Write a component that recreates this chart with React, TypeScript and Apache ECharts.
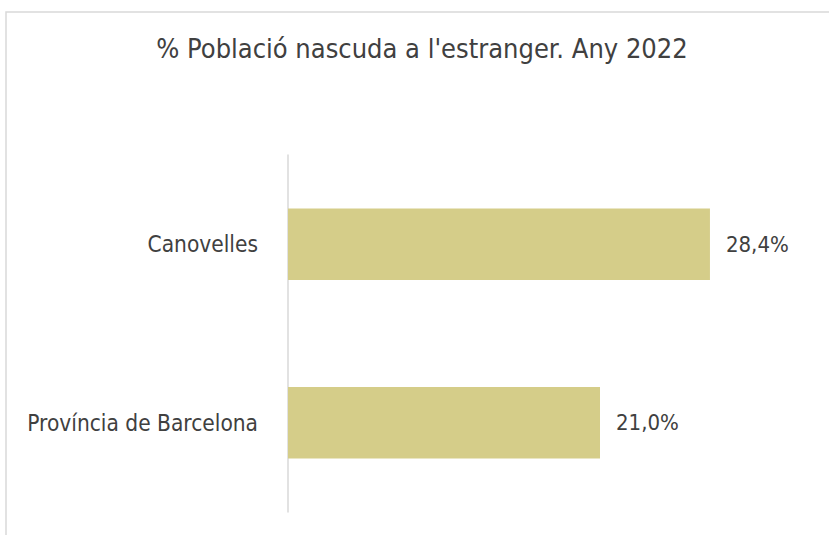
import React, { useEffect, useRef } from "react";
import * as echarts from "echarts";

const categories = ["Canovelles", "Província de Barcelona"];
const values = [28.4, 21.0];
const titleText = "% Població nascuda a l'estranger. Any 2022";

const FONT = "'DejaVu Sans Condensed', 'DejaVu Sans', sans-serif";
const TEXT = "#404040";

export default function App() {
  const ref = useRef<HTMLDivElement>(null);
  useEffect(() => {
    if (!ref.current) return;
    const chart = echarts.init(ref.current, undefined, { renderer: "svg" });
    chart.setOption({
      animation: false,
      backgroundColor: "#ffffff",
      graphic: [
        {
          type: "rect",
          shape: { x: 6, y: 12, width: 1000, height: 1000 },
          style: { fill: "none", stroke: "#d9d9d9", lineWidth: 1.5 },
          silent: true,
          z: -10,
        },
      ],
      title: {
        text: titleText,
        left: 417,
        textAlign: "center",
        top: 30,
        textStyle: { fontFamily: FONT, fontSize: 27, fontWeight: "normal", color: TEXT },
      },
      grid: { left: 288, right: 21, top: 155, bottom: 23, containLabel: false },
      xAxis: {
        type: "value",
        min: 0,
        max: 35,
        show: false,
        splitLine: { show: false },
      },
      yAxis: {
        type: "category",
        data: categories,
        inverse: true,
        axisTick: { show: false },
        axisLine: { show: true, lineStyle: { color: "#d9d9d9", width: 1.5 } },
        axisLabel: { margin: 30, fontFamily: FONT, fontSize: 22.5, color: TEXT },
      },
      series: [
        {
          type: "bar",
          data: values,
          barCategoryGap: "60%",
          itemStyle: { color: "#d5cd89" },
          label: {
            show: true,
            position: "right",
            distance: 16,
            fontFamily: FONT,
            fontSize: 22,
            color: TEXT,
            formatter: (p: any) => p.value.toFixed(1).replace(".", ",") + "%",
          },
        },
      ],
    });
    return () => chart.dispose();
  }, []);
  return <div ref={ref} style={{ position: "fixed", left: 0, top: 0, width: 829, height: 535 }} />;
}
